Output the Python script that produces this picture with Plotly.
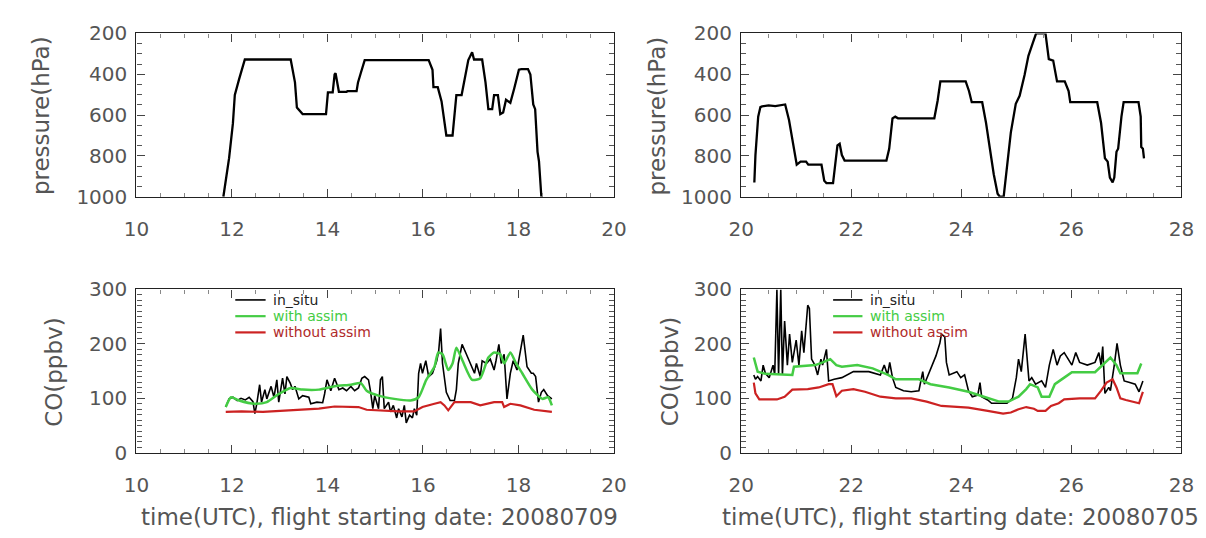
import plotly.graph_objects as go

# ---------------- data ----------------
# Flight 1 (starting date 20080709): pressure profile
p1_time = [11.82, 11.94, 12.02, 12.06, 12.15, 12.23, 12.27, 13.23, 13.32, 13.36, 13.44, 13.48,
           13.97, 14.00, 14.01, 14.11, 14.15, 14.17, 14.20, 14.24, 14.40, 14.42, 14.61, 14.64,
           14.70, 14.78, 16.12, 16.20, 16.22, 16.31, 16.39, 16.45, 16.49, 16.62, 16.66, 16.70,
           16.81, 16.89, 16.95, 17.03, 17.07, 17.24, 17.31, 17.37, 17.45, 17.49, 17.57, 17.62,
           17.68, 17.74, 17.83, 17.91, 18.01, 18.06, 18.20, 18.25, 18.31, 18.35, 18.40, 18.43,
           18.48]
p1_pres = [1000, 811, 641, 502, 424, 362, 328, 328, 440, 563, 587, 595,
           595, 533, 489, 489, 401, 395, 430, 486, 486, 483, 483, 440,
           393, 331, 331, 378, 463, 463, 533, 625, 700, 700, 595, 502,
           502, 409, 331, 292, 328, 328, 440, 571, 571, 502, 502, 595,
           587, 525, 540, 471, 378, 375, 375, 401, 548, 571, 780, 826,
           1000]

# Flight 2 (starting date 20080705): pressure profile
p2_time = [20.24, 20.26, 20.31, 20.35, 20.38, 20.50, 20.62, 20.80, 20.87, 20.94, 21.01, 21.08,
           21.18, 21.22, 21.46, 21.51, 21.55, 21.67, 21.70, 21.75, 21.79, 21.83, 21.88, 22.64,
           22.69, 22.75, 22.80, 22.85, 23.51, 23.57, 23.62, 24.08, 24.14, 24.19, 24.38, 24.45,
           24.52, 24.59, 24.66, 24.70, 24.77, 24.83, 24.90, 24.99, 25.06, 25.15, 25.22, 25.30,
           25.36, 25.53, 25.59, 25.67, 25.74, 25.88, 25.95, 25.98, 26.47, 26.54, 26.61, 26.66,
           26.70, 26.75, 26.78, 26.82, 26.85, 26.91, 26.95, 27.22, 27.26, 27.27, 27.30, 27.32]
p2_pres = [930, 796, 608, 561, 558, 553, 556, 548, 624, 733, 843, 828,
           828, 843, 843, 922, 933, 933, 859, 749, 741, 796, 823, 823,
           765, 616, 608, 616, 616, 530, 435, 435, 482, 537, 537, 639,
           765, 890, 985, 1000, 1000, 843, 686, 545, 506, 404, 310, 247,
           200, 200, 326, 333, 435, 435, 482, 537, 537, 639, 812, 828,
           906, 930, 906, 780, 765, 608, 537, 537, 608, 757, 765, 812]

# Flight 1 CO (ppbv)
co1_time = [11.87, 11.94, 12.02, 12.11, 12.19, 12.28, 12.36, 12.44, 12.48, 12.52, 12.58, 12.62,
            12.69, 12.73, 12.82, 12.88, 12.94, 12.98, 13.06, 13.11, 13.15, 13.22, 13.27, 13.32,
            13.40, 13.48, 13.61, 13.65, 13.78, 13.90, 13.94, 13.99, 14.07, 14.15, 14.24, 14.32,
            14.40, 14.49, 14.57, 14.65, 14.72, 14.78, 14.86, 14.90, 14.95, 14.99, 15.07, 15.11,
            15.15, 15.19, 15.28, 15.32, 15.38, 15.45, 15.49, 15.56, 15.61, 15.65, 15.72, 15.78,
            15.82, 15.87, 15.91, 15.95, 15.99, 16.06, 16.12, 16.20, 16.29, 16.33, 16.37, 16.41,
            16.49, 16.57, 16.66, 16.70, 16.74, 16.82, 16.91, 16.99, 17.08, 17.12, 17.20, 17.24,
            17.33, 17.41, 17.49, 17.53, 17.59, 17.64, 17.70, 17.76, 17.83, 17.89, 17.97, 18.10,
            18.18, 18.27, 18.31, 18.36, 18.42, 18.48, 18.53, 18.61, 18.70]
co1_insitu = [84, 99, 102, 96, 100, 97, 102, 94, 72, 90, 125, 93,
              116, 99, 122, 102, 134, 93, 137, 108, 140, 128, 116, 122,
              99, 105, 102, 90, 93, 92, 108, 134, 114, 137, 116, 119,
              114, 122, 114, 119, 137, 140, 134, 114, 81, 105, 81, 134,
              140, 81, 93, 75, 87, 64, 81, 66, 87, 55, 69, 64,
              81, 69, 146, 164, 146, 169, 140, 146, 169, 187, 228, 164,
              111, 96, 96, 116, 164, 199, 181, 164, 146, 164, 140, 169,
              164, 172, 152, 169, 199, 164, 181, 99, 146, 169, 152, 216,
              158, 146, 146, 140, 93, 111, 116, 105, 99, 93, 102, 87]
co1_with_time = [11.87, 11.98, 12.15, 12.48, 12.73, 12.98, 13.23, 13.48, 13.82, 14.15, 14.49, 14.70,
                 14.82, 15.07, 15.40, 15.74, 15.91, 16.07, 16.24, 16.32, 16.41, 16.53, 16.62, 16.70,
                 16.83, 17.03, 17.20, 17.37, 17.49, 17.62, 17.70, 17.83, 17.95, 18.08, 18.29, 18.50,
                 18.62, 18.70]
co1_with = [84, 102, 96, 90, 93, 108, 119, 116, 116, 122, 125, 128,
            114, 105, 99, 96, 102, 134, 158, 184, 181, 152, 164, 193,
            169, 134, 137, 175, 184, 181, 164, 184, 164, 146, 116, 99,
            102, 87]
co1_without_time = [11.87, 12.20, 12.65, 13.32, 13.82, 14.15, 14.65, 14.82, 15.49, 15.82, 15.99, 16.24,
                    16.37, 16.45, 16.53, 16.66, 17.00, 17.20, 17.49, 17.66, 17.70, 17.83, 18.04, 18.33,
                    18.70]
co1_without = [75, 76, 75, 78, 81, 85, 84, 79, 76, 76, 84, 90,
               93, 87, 78, 93, 93, 87, 93, 93, 84, 90, 87, 79,
               75]

# Flight 2 CO (ppbv)
co2_time = [20.23, 20.26, 20.30, 20.36, 20.40, 20.44, 20.51, 20.58, 20.61, 20.65, 20.68, 20.72,
            20.75, 20.79, 20.84, 20.88, 20.93, 21.00, 21.05, 21.10, 21.14, 21.21, 21.24, 21.28,
            21.34, 21.39, 21.45, 21.48, 21.55, 21.59, 21.69, 21.83, 22.04, 22.32, 22.53, 22.60,
            22.66, 22.70, 22.75, 22.81, 22.95, 23.09, 23.23, 23.30, 23.33, 23.40, 23.47, 23.54,
            23.61, 23.64, 23.70, 23.73, 23.78, 23.92, 23.99, 24.06, 24.13, 24.20, 24.30, 24.34,
            24.37, 24.48, 24.55, 24.83, 24.93, 25.00, 25.04, 25.09, 25.16, 25.19, 25.23, 25.28,
            25.35, 25.46, 25.53, 25.60, 25.67, 25.74, 25.80, 25.87, 25.94, 26.01, 26.08, 26.15,
            26.29, 26.43, 26.50, 26.54, 26.57, 26.61, 26.68, 26.71, 26.78, 26.83, 26.89, 26.96,
            27.06, 27.16, 27.23, 27.30]
co2_insitu = [143, 135, 140, 132, 161, 146, 138, 161, 143, 300, 143, 300,
              143, 242, 161, 218, 166, 207, 161, 224, 184, 271, 265, 172,
              161, 143, 172, 161, 190, 132, 135, 138, 149, 149, 143, 161,
              143, 166, 138, 120, 114, 112, 114, 149, 126, 143, 161, 178,
              201, 218, 213, 166, 143, 149, 138, 143, 114, 103, 106, 129,
              103, 97, 91, 91, 100, 138, 172, 149, 218, 178, 132, 138,
              126, 132, 120, 161, 190, 161, 178, 184, 172, 161, 184, 166,
              161, 166, 184, 161, 195, 109, 120, 114, 161, 201, 161, 132,
              129, 126, 112, 132]
co2_with_time = [20.23, 20.30, 20.44, 20.93, 20.96, 21.35, 21.48, 21.62, 21.73, 21.83, 22.11, 22.39,
                 22.67, 22.81, 23.23, 23.44, 23.78, 24.13, 24.41, 24.69, 24.86, 25.04, 25.18, 25.25,
                 25.39, 25.46, 25.60, 25.70, 25.87, 26.01, 26.43, 26.57, 26.71, 26.82, 26.89, 27.20,
                 27.27]
co2_with = [175, 149, 145, 143, 158, 161, 166, 172, 161, 158, 161, 155,
            143, 135, 135, 126, 120, 112, 103, 94, 94, 103, 117, 126,
            120, 103, 103, 126, 138, 148, 148, 161, 175, 161, 146, 146,
            164]
co2_without_time = [20.23, 20.26, 20.33, 20.65, 20.79, 20.93, 21.21, 21.41, 21.59, 21.66, 21.73, 21.83,
                    22.04, 22.25, 22.53, 22.81, 23.09, 23.37, 23.64, 24.13, 24.48, 24.76, 24.90, 25.04,
                    25.18, 25.32, 25.39, 25.53, 25.63, 25.77, 25.87, 26.15, 26.43, 26.54, 26.64, 26.75,
                    26.82, 26.89, 26.99, 27.13, 27.23, 27.27, 27.30]
co2_without = [129, 109, 98, 98, 103, 116, 117, 120, 126, 126, 104, 114,
               117, 112, 103, 100, 100, 94, 86, 83, 77, 72, 74, 80,
               84, 81, 77, 77, 86, 91, 98, 100, 100, 114, 129, 135,
               120, 100, 97, 94, 91, 103, 112]

x1_ticks = [10, 12, 14, 16, 18, 20]
x2_ticks = [20, 22, 24, 26, 28]
p_ticks = [200, 400, 600, 800, 1000]
co_ticks = [0, 100, 200, 300]
legend_names = ["in_situ", "with assim", "without assim"]
xlabel1 = "time(UTC), flight starting date: 20080709"
xlabel2 = "time(UTC), flight starting date: 20080705"

# ---------------- styling ----------------
W, H = 1206, 538
FONT = "DejaVu Sans"
TXT = "#555555"
BLACK = "#000000"
GREEN = "#44cc44"
RED = "#cc2222"


def px(x):
    return x / W


def py(y):
    return 1 - y / H


fig = go.Figure()

fig.add_trace(go.Scatter(x=p1_time, y=p1_pres, mode="lines", line=dict(color=BLACK, width=2.3),
                         xaxis="x", yaxis="y", showlegend=False))
fig.add_trace(go.Scatter(x=p2_time, y=p2_pres, mode="lines", line=dict(color=BLACK, width=2.3),
                         xaxis="x2", yaxis="y2", showlegend=False))

fig.add_trace(go.Scatter(x=co1_time, y=co1_insitu, mode="lines", line=dict(color=BLACK, width=1.6),
                         xaxis="x3", yaxis="y3", showlegend=False))
fig.add_trace(go.Scatter(x=co1_with_time, y=co1_with, mode="lines",
                         line=dict(color=GREEN, width=2.5, shape="spline", smoothing=0.6),
                         xaxis="x3", yaxis="y3", showlegend=False))
fig.add_trace(go.Scatter(x=co1_without_time, y=co1_without, mode="lines", line=dict(color=RED, width=2.2),
                         xaxis="x3", yaxis="y3", showlegend=False))

fig.add_trace(go.Scatter(x=co2_time, y=co2_insitu, mode="lines", line=dict(color=BLACK, width=1.6),
                         xaxis="x4", yaxis="y4", showlegend=False))
fig.add_trace(go.Scatter(x=co2_with_time, y=co2_with, mode="lines", line=dict(color=GREEN, width=2.5),
                         xaxis="x4", yaxis="y4", showlegend=False))
fig.add_trace(go.Scatter(x=co2_without_time, y=co2_without, mode="lines", line=dict(color=RED, width=2.2),
                         xaxis="x4", yaxis="y4", showlegend=False))

xl_dom = [px(118), px(606)]
xr_dom = [px(736), px(1186)]
yt_dom = [py(185), py(14)]
yb_dom = [py(453), py(282)]

common = dict(showline=True, linecolor="#222", linewidth=1.3, mirror="allticks", ticks="inside",
              ticklen=8, tickcolor="#444", tickwidth=1, showgrid=False, zeroline=False,
              tickfont=dict(family=FONT, size=20, color=TXT))


def xax(dom, rng, ticks, anchor):
    d = dict(common)
    d.update(domain=dom, range=rng, tickvals=ticks, anchor=anchor, ticklabelstandoff=14,
             minor=dict(dtick=0.5, ticks="inside", ticklen=4, tickcolor="#888", showgrid=False))
    return d


def yax(dom, rng, ticks, anchor, mdt):
    d = dict(common)
    d.update(domain=dom, range=rng, tickvals=ticks, anchor=anchor, ticklabelstandoff=4,
             minor=dict(dtick=mdt, ticks="inside", ticklen=5, tickcolor="#555", showgrid=False))
    return d


fig.update_layout(
    width=W, height=H, margin=dict(l=0, r=0, t=0, b=0),
    paper_bgcolor="white", plot_bgcolor="white",
    xaxis=xax(xl_dom, [10, 20], x1_ticks, "y"),
    yaxis=yax(yt_dom, [1000, 200], p_ticks, "x", 50),
    xaxis2=xax(xr_dom, [20, 28], x2_ticks, "y2"),
    yaxis2=yax(yt_dom, [1000, 200], p_ticks, "x2", 50),
    xaxis3=xax(xl_dom, [10, 20], x1_ticks, "y3"),
    yaxis3=yax(yb_dom, [0, 300], co_ticks, "x3", 10),
    xaxis4=xax(xr_dom, [20, 28], x2_ticks, "y4"),
    yaxis4=yax(yb_dom, [0, 300], co_ticks, "x4", 10),
    showlegend=False,
)

ann = []
# axis titles
for xc, yc, t in [(20, 100, "pressure(hPa)"), (650, 100, "pressure(hPa)"),
                  (33, 368, "CO(ppbv)"), (663, 368, "CO(ppbv)")]:
    ann.append(dict(x=px(xc), y=py(yc), xref="paper", yref="paper", text=t, textangle=-90,
                    xanchor="center", yanchor="middle",
                    showarrow=False, font=dict(family=FONT, size=23, color=TXT)))
for xc, t in [(366, xlabel1), (960, xlabel2)]:
    ann.append(dict(x=px(xc), y=py(520), xref="paper", yref="paper", text=t, showarrow=False,
                    xanchor="center", yanchor="middle",
                    font=dict(family=FONT, size=23, color=TXT)))

# legends inside CO panels
shapes = []
leg_cols = [BLACK, GREEN, RED]
leg_txt_cols = ["#222222", "#44cc44", "#b02a2a"]
for x0, x1, xt in [(219, 250, 257), (830, 860, 867)]:
    for i, (nm, lc, tc) in enumerate(zip(legend_names, leg_cols, leg_txt_cols)):
        yy = 293 + i * 17
        shapes.append(dict(type="line", xref="paper", yref="paper", x0=px(x0), x1=px(x1),
                           y0=py(yy), y1=py(yy), line=dict(color=lc, width=1.6 if i == 0 else 2.2)))
        ann.append(dict(x=px(xt), y=py(yy), xref="paper", yref="paper", text=nm, showarrow=False,
                        xanchor="left", yanchor="middle", borderpad=0,
                        font=dict(family=FONT, size=14, color=tc)))

fig.update_layout(annotations=ann, shapes=shapes)
fig.write_html("out.html")
